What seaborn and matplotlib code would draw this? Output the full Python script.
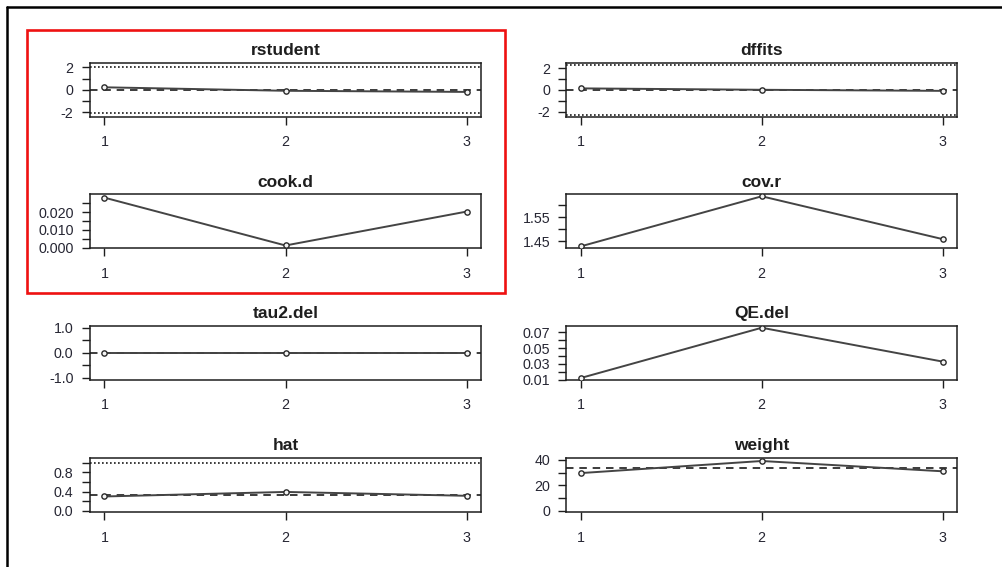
import numpy as np
import pandas as pd
import matplotlib
matplotlib.use("Agg")
import matplotlib.pyplot as plt
from matplotlib.lines import Line2D
from matplotlib.patches import Rectangle
import seaborn as sns

# Leave-one-out influence diagnostics for a 3-study random-effects model
study = [1, 2, 3]
rstudent = [0.24, -0.07, -0.17]
dffits = [0.15, 0.02, -0.08]
cook_d = [0.0283, 0.0012, 0.0204]
cov_r = [1.4295, 1.6380, 1.4596]
tau2_del = [0.0, 0.0, 0.0]
qe_del = [0.0122, 0.0760, 0.0330]
hat = [0.297, 0.392, 0.311]
weight = [29.7, 39.2, 31.1]

panel_names = ["rstudent", "dffits", "cook.d", "cov.r", "tau2.del", "QE.del", "hat", "weight"]
panel_values = [rstudent, dffits, cook_d, cov_r, tau2_del, qe_del, hat, weight]

# y-axis tick positions and which of them carry a label
y_ticks = {
    "rstudent": ([-2, -1, 0, 1, 2], ["-2", "", "0", "", "2"]),
    "dffits": ([-2, -1, 0, 1, 2], ["-2", "", "0", "", "2"]),
    "cook.d": ([0, 0.005, 0.010, 0.015, 0.020, 0.025], ["0.000", "", "0.010", "", "0.020", ""]),
    "cov.r": ([1.45, 1.50, 1.55, 1.60], ["1.45", "", "1.55", ""]),
    "tau2.del": ([-1, -0.5, 0, 0.5, 1], ["-1.0", "", "0.0", "", "1.0"]),
    "QE.del": ([0.01, 0.02, 0.03, 0.04, 0.05, 0.06, 0.07], ["0.01", "", "0.03", "", "0.05", "", "0.07"]),
    "hat": ([0, 0.2, 0.4, 0.6, 0.8, 1.0], ["0.0", "", "0.4", "", "0.8", ""]),
    "weight": ([0, 10, 20, 30, 40], ["0", "", "20", "", "40"]),
}
y_limits = {
    "rstudent": (-2.4, 2.4),
    "dffits": (-2.5, 2.5),
    "cook.d": (-0.0004, 0.0302),
    "cov.r": (1.4212, 1.6463),
    "tau2.del": (-1.08, 1.08),
    "QE.del": (0.0096, 0.0786),
    "hat": (-0.035, 1.11),
    "weight": (-1.2, 41.8),
}
# reference lines: dashed = average / null value, dotted = cut-offs
dashed_ref = {"rstudent": 0.0, "dffits": 0.0, "tau2.del": 0.0, "hat": 1 / 3, "weight": 100 / 3}
dotted_ref = {"rstudent": [-2.07, 2.07], "dffits": [-2.3, 2.3], "hat": [1.0]}

sns.set_style("ticks")
plt.rcParams["font.family"] = ["Liberation Sans", "DejaVu Sans"]

W, H = 1003, 567
fig = plt.figure(figsize=(W / 100, H / 100), dpi=100)
fig.patch.set_facecolor("white")

col_x = [(90, 481), (566.5, 957)]
row_y = [(63, 117), (194.3, 248.3), (325.7, 380), (457.7, 512.3)]

ink = "#1e1e1e"
for i, (name, vals) in enumerate(zip(panel_names, panel_values)):
    r, c = divmod(i, 2)
    x0, x1 = col_x[c]
    y0, y1 = row_y[r]
    ax = fig.add_axes([x0 / W, 1 - y1 / H, (x1 - x0) / W, (y1 - y0) / H])

    df = pd.DataFrame({"study": study, "value": vals})
    sns.lineplot(data=df, x="study", y="value", ax=ax, color="#444444", lw=1.4,
                 marker="o", markersize=3.8, markerfacecolor="#f4f4f4",
                 markeredgecolor="#2a2a2a", markeredgewidth=1.0, zorder=3)

    if name in dashed_ref:
        ax.axhline(dashed_ref[name], color="#1a1a1a", lw=1.2,
                   linestyle=(0, (4.5, 3.5)), zorder=2)
    for v in dotted_ref.get(name, []):
        ax.axhline(v, color="#1a1a1a", lw=1.2, linestyle=(0, (1, 1.4)), zorder=2)

    ax.set_xlim(0.92, 3.08)
    ax.set_ylim(*y_limits[name])
    ax.set_xticks(study)
    ax.set_xticklabels([str(s) for s in study])
    ticks, labels = y_ticks[name]
    ax.set_yticks(ticks)
    ax.set_yticklabels(labels)

    ax.set_xlabel("")
    ax.set_ylabel("")
    ax.set_title(name, fontsize=12.5, fontweight="bold", color=ink, pad=5.5)

    for sp in ax.spines.values():
        sp.set_visible(True)
        sp.set_linewidth(1.1)
        sp.set_color(ink)
    ax.tick_params(axis="both", direction="out", length=5.8, width=1.0,
                   color=ink, labelcolor="#262633", labelsize=10.3)
    ax.tick_params(axis="x", pad=7.5)
    ax.tick_params(axis="y", pad=6)
    ax.grid(False)

# outer frame (top and left edges)
fig.add_artist(Line2D([7 / W, 1.0], [1 - 7 / H, 1 - 7 / H], transform=fig.transFigure,
                      color="black", lw=1.8))
fig.add_artist(Line2D([7 / W, 7 / W], [1 - 7 / H, 0.0], transform=fig.transFigure,
                      color="black", lw=1.8))

# highlight box around the first two panels of the left column
fig.add_artist(Rectangle((27 / W, 1 - 293 / H), (505 - 27) / W, (293 - 30) / H,
                         transform=fig.transFigure, fill=False, edgecolor="#ee1111", lw=1.9))

fig.savefig("out.png", dpi=100, facecolor="white")
